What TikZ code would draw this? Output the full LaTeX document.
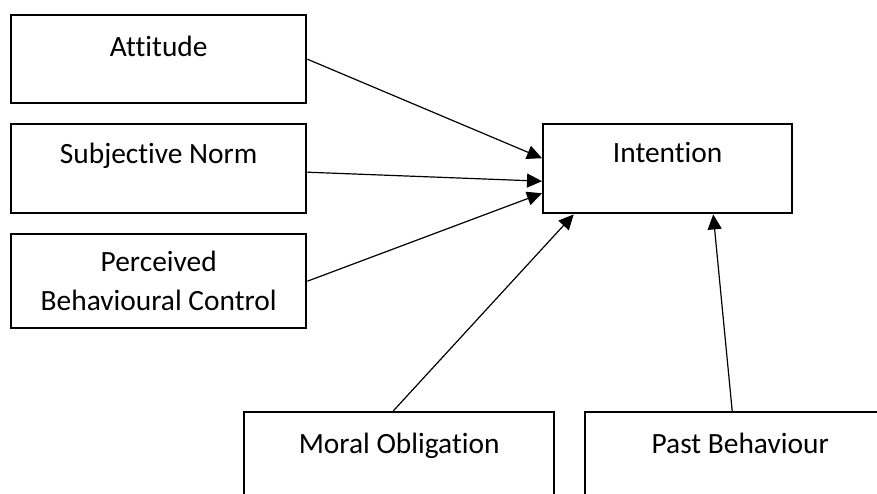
\documentclass[tikz,border=0pt]{standalone}
\usepackage{fontspec}
\setmainfont{Carlito}[Ligatures={NoCommon}]
\usetikzlibrary{arrows.meta}
\begin{document}
\begin{tikzpicture}[x=0.5pt,y=-0.5pt]
\tikzset{box/.style={draw=black,line width=1.2pt,inner sep=0pt,align=center,anchor=north west,font=\fontsize{14.7pt}{19.5pt}\selectfont},
link/.style={draw=black,line width=0.6pt,-{Triangle[length=7.5pt,width=7pt]}}}
\useasboundingbox (0,0) rectangle (877,493);
\node [box,minimum width=147.5pt,text height=20.5pt,text depth=23.5pt] (att) at (10,14) {Attitude};
\node [box,minimum width=147.5pt,text height=19.5pt,text depth=25pt] (sn) at (10,123) {Subjective Norm};
\node [box,minimum width=147.5pt,minimum height=47pt] (pbc) at (10,233) {Perceived\\Behavioural Control};
\node [box,minimum width=124.5pt,text height=19pt,text depth=25.5pt] (int) at (542,123) {Intention};
\node [box,minimum width=155pt,text height=20.5pt,text depth=40pt] (mo) at (243,411) {Moral Obligation};
\node [box,minimum width=155pt,text height=20.5pt,text depth=40pt] (pb) at (584,411) {Past Behaviour};
\draw [link] (att.east) -- ([yshift=5.25pt]int.west);
\draw [link] ([yshift=-1.75pt]sn.east) -- ([yshift=-6.25pt]int.west);
\draw [link] (pbc.east) -- ([yshift=-12.25pt]int.west);
\draw [link] ([xshift=-3pt]mo.north) -- ([xshift=-47pt]int.south);
\draw [link] ([xshift=-4pt]pb.north) -- ([xshift=22.75pt]int.south);
\end{tikzpicture}
\end{document}
